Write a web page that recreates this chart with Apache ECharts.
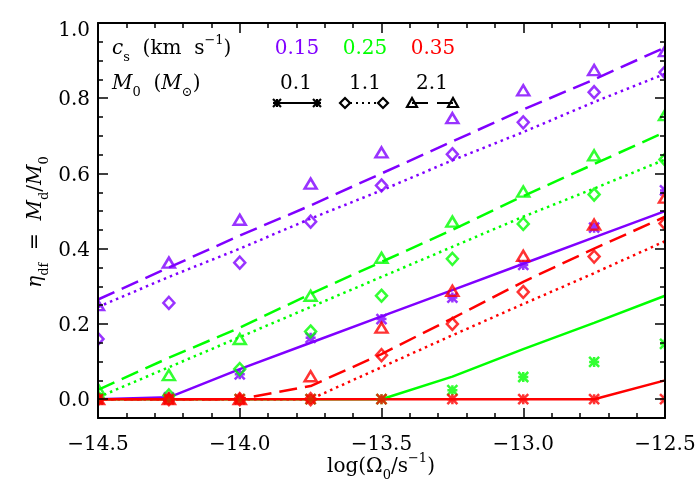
<!DOCTYPE html>
<html>
<head>
<meta charset="utf-8">
<script src="https://cdn.jsdelivr.net/npm/echarts@6/dist/echarts.min.js"></script>
<style>html,body{margin:0;padding:0;background:#fff}#c{width:700px;height:499px}</style>
</head>
<body>
<div id="c"></div>
<script>
const xs = [-14.5, -14.25, -14.0, -13.75, -13.5, -13.25, -13.0, -12.75, -12.5];
const xTicks = [-14.5, -14.0, -13.5, -13.0, -12.5];
const yMajor = [0.0, 0.2, 0.4, 0.6, 0.8, 1.0];
const yMinor = [-0.05, 0.05, 0.1, 0.15, 0.25, 0.3, 0.35, 0.45, 0.5, 0.55, 0.65, 0.7, 0.75, 0.85, 0.9, 0.95];

// c_s = 0.15 (purple)
const tri015 = [0.25, 0.363, 0.477, 0.573, 0.656, 0.747, 0.821, 0.875, 0.925];
const dia015 = [0.16, 0.256, 0.363, 0.472, 0.568, 0.651, 0.736, 0.816, 0.869];
const ast015 = [0.0, 0.005, 0.066, 0.163, 0.213, 0.27, 0.357, 0.456, 0.555];
const solid015 = [0.0, 0.005, 0.08, 0.15, 0.22, 0.29, 0.36, 0.43, 0.50];
const dash015 = [0.265, 0.35, 0.435, 0.515, 0.6, 0.685, 0.77, 0.85, 0.935];
const dot015 = [0.245, 0.325, 0.40, 0.48, 0.555, 0.635, 0.71, 0.79, 0.865];

// c_s = 0.25 (green)
const tri025 = [0.027, 0.064, 0.16, 0.275, 0.376, 0.472, 0.552, 0.648, 0.755];
const dia025 = [0.005, 0.01, 0.08, 0.18, 0.275, 0.373, 0.466, 0.544, 0.637];
const ast025 = [0, 0, 0, 0, 0, 0.024, 0.059, 0.099, 0.147];
const solid025 = [0, 0, 0, 0, 0, 0.06, 0.133, 0.203, 0.275];
const dash025 = [0.025, 0.11, 0.19, 0.28, 0.365, 0.45, 0.54, 0.625, 0.71];
const dot025 = [0.005, 0.085, 0.165, 0.245, 0.325, 0.405, 0.485, 0.56, 0.637];

// c_s = 0.35 (red)
const tri035 = [0, 0, 0, 0.061, 0.19, 0.288, 0.381, 0.464, 0.536];
const dia035 = [0, 0, 0, 0, 0.117, 0.2, 0.285, 0.379, 0.467];
const ast035 = [0, 0, 0, 0, 0, 0, 0, 0, 0];
const solid035 = [0, 0, 0, 0, 0, 0, 0, 0, 0.05];
const dash035 = [0, 0, 0, 0.035, 0.12, 0.215, 0.312, 0.40, 0.485];
const dot035 = [0, 0, 0, 0, 0.085, 0.17, 0.253, 0.335, 0.42];

const csLabels = ['0.15', '0.25', '0.35'];
const m0Labels = ['0.1', '1.1', '2.1'];

const PURPLE = '#8000ff', GREEN = '#00ff00', RED = '#ff0000';
const FONT = '"DejaVu Serif", serif';
const AST = 'path://M0,0L10,10M10,0L0,10M5,0L5,10M0,5L10,5';

function pairs(ys) { return xs.map((x, i) => [x, ys[i]]); }

function lineSeries(ys, color, type) {
  return {
    type: 'line', data: pairs(ys), showSymbol: false, symbol: 'none',
    lineStyle: { color: color, width: 2.5, type: type, cap: 'butt' },
    z: 3, animation: false, silent: true
  };
}
function ptSeries(ys, color, symbol, size) {
  return {
    type: 'scatter', data: pairs(ys), symbol: symbol, symbolSize: size,
    itemStyle: { color: 'rgba(0,0,0,0)', borderColor: color, borderWidth: 2.5 },
    z: 4, animation: false, silent: true, clip: false
  };
}

const groups = [
  [PURPLE, tri015, dia015, ast015, solid015, dash015, dot015],
  [GREEN, tri025, dia025, ast025, solid025, dash025, dot025],
  [RED, tri035, dia035, ast035, solid035, dash035, dot035]
];
const series = [];
groups.forEach(g => {
  const [c, tri, dia, ast, so, da, dt] = g;
  series.push(lineSeries(so, c, 'solid'));
  series.push(lineSeries(da, c, [18, 8]));
  series.push(lineSeries(dt, c, [2.5, 4]));
  series.push(ptSeries(tri, c, 'triangle', [12, 10]));
  series.push(ptSeries(dia, c, 'diamond', [11, 12]));
  series.push(ptSeries(ast, c, AST, [10, 10]));
});

const tickLine = { color: '#000', width: 1.5 };
function xAxisCfg(pos, showLabel) {
  return {
    type: 'value', position: pos, min: -14.5, max: -12.5, interval: 0.5, z: 10,
    axisLine: { show: true, onZero: false, lineStyle: { color: '#000', width: 2 } },
    axisTick: { show: true, inside: true, length: 10, lineStyle: tickLine },
    minorTick: { show: true, splitNumber: 5, length: 5, lineStyle: tickLine },
    axisLabel: {
      show: showLabel, margin: 17, fontFamily: FONT, fontSize: 20, color: '#000',
      formatter: v => v.toFixed(1).replace('-', '\u2212')
    },
    splitLine: { show: false }, minorSplitLine: { show: false }
  };
}
function yAxisCfg(pos, showLabel, major) {
  const vals = major ? yMajor : yMinor;
  return {
    type: 'value', position: pos, min: -0.05, max: 1.0, z: 10,
    axisLine: { show: major, onZero: false, lineStyle: { color: '#000', width: 2 } },
    axisTick: { show: true, inside: true, length: major ? 10 : 5, lineStyle: tickLine, customValues: vals },
    axisLabel: {
      show: showLabel, margin: 8, fontFamily: FONT, fontSize: 20, color: '#000',
      customValues: yMajor,
      formatter: v => (v >= 0.999 ? '{t|' + v.toFixed(1) + '}' : '{m|' + v.toFixed(1) + '}'),
      rich: {
        t: { fontFamily: FONT, fontSize: 20, color: '#000', padding: [16, 0, 0, 0] },
        m: { fontFamily: FONT, fontSize: 20, color: '#000', padding: [4, 0, 0, 0] }
      }
    },
    splitLine: { show: false }
  };
}

const baseRich = {
  it: { fontStyle: 'italic', fontFamily: FONT, fontSize: 20, fill: '#000', lineHeight: 30 },
  sub: { fontFamily: FONT, fontSize: 13, fill: '#000', lineHeight: 16, verticalAlign: 'bottom' },
  sup: { fontFamily: FONT, fontSize: 13, fill: '#000', lineHeight: 20, verticalAlign: 'top' },
  n: { fontFamily: FONT, fontSize: 20, fill: '#000', lineHeight: 30 }
};
function richText(x, y, text, extra) {
  return Object.assign({
    type: 'text', x: x, y: y, z: 20, silent: true,
    style: {
      text: text, rich: baseRich, font: '20px "DejaVu Serif"', fill: '#000',
      align: 'left', verticalAlign: 'middle'
    }
  }, extra || {});
}
function plainText(x, y, text, color) {
  return {
    type: 'text', x: x, y: y, z: 20, silent: true,
    style: { text: text, font: '20px "DejaVu Serif"', fill: color, align: 'center', verticalAlign: 'middle' }
  };
}
const blk = { stroke: '#000', fill: 'none', lineWidth: 2.2 };
function triG(x, y) { return { type: 'polygon', z: 20, shape: { points: [[x - 5, y + 4], [x + 5, y + 4], [x, y - 5]] }, style: blk }; }
function diaG(x, y) { return { type: 'polygon', z: 20, shape: { points: [[x, y - 5], [x + 5, y], [x, y + 5], [x - 5, y]] }, style: blk }; }
function astG(x, y) {
  const r = 4, out = [];
  [[-r, -r, r, r], [r, -r, -r, r], [0, -r, 0, r], [-r, 0, r, 0]].forEach(s => {
    out.push({ type: 'line', z: 20, shape: { x1: x + s[0], y1: y + s[1], x2: x + s[2], y2: y + s[3] }, style: { stroke: '#000', lineWidth: 2.2 } });
  });
  return out;
}
function segG(x1, x2, y, dash) {
  return { type: 'line', z: 20, shape: { x1: x1, y1: y, x2: x2, y2: y }, style: { stroke: '#000', lineWidth: 2, lineDash: dash } };
}

const LY = 103;
const graphic = [
  // white masks to clip markers at the frame
  { type: 'rect', z: 5, silent: true, shape: { x: 0, y: 0, width: 97, height: 499 }, style: { fill: '#fff' } },
  { type: 'rect', z: 5, silent: true, shape: { x: 666, y: 0, width: 34, height: 499 }, style: { fill: '#fff' } },
  { type: 'rect', z: 5, silent: true, shape: { x: 0, y: 0, width: 700, height: 22 }, style: { fill: '#fff' } },
  { type: 'rect', z: 5, silent: true, shape: { x: 0, y: 419, width: 700, height: 80 }, style: { fill: '#fff' } },
  richText(112, 49, '{it|c}{sub|s}{n|  (km  s}{sup|\u22121}{n|)}'),
  plainText(297, 49, csLabels[0], PURPLE),
  plainText(365, 49, csLabels[1], GREEN),
  plainText(433, 49, csLabels[2], RED),
  richText(112, 84, '{it|M}{sub|0}{n|  (}{it|M}{sub|\u2299}{n|)}'),
  plainText(296, 84, m0Labels[0], '#000'),
  plainText(365, 84, m0Labels[1], '#000'),
  plainText(432, 84, m0Labels[2], '#000'),
  segG(277, 317, LY, null),
  ...astG(277, LY), ...astG(317, LY),
  segG(350, 378, LY, [2, 4]),
  diaG(345, LY), diaG(383, LY),
  segG(412, 453, LY, [16, 9]),
  triG(412, LY), triG(453, LY),
  // axis titles
  richText(381, 467, '{n|log(\u03a9}{sub|0}{n|/s}{sup|\u22121}{n|)}', {}),
  richText(36, 222, '{it|\u03b7}{sub|df}{n|  =  }{it|M}{sub|d}{n|/}{it|M}{sub|0}', { rotation: Math.PI / 2 })
];
graphic[graphic.length - 2].style.align = 'center';
graphic[graphic.length - 1].style.align = 'center';

const chart = echarts.init(document.getElementById('c'), null, { renderer: 'canvas' });
chart.setOption({
  animation: false,
  backgroundColor: '#fff',
  grid: { left: 98, right: 35, top: 23, bottom: 81, containLabel: false },
  xAxis: [xAxisCfg('bottom', true), xAxisCfg('top', false)],
  yAxis: [yAxisCfg('left', true, true), yAxisCfg('right', false, true), yAxisCfg('left', false, false), yAxisCfg('right', false, false)],
  series: series,
  graphic: graphic
});
</script>
</body>
</html>
